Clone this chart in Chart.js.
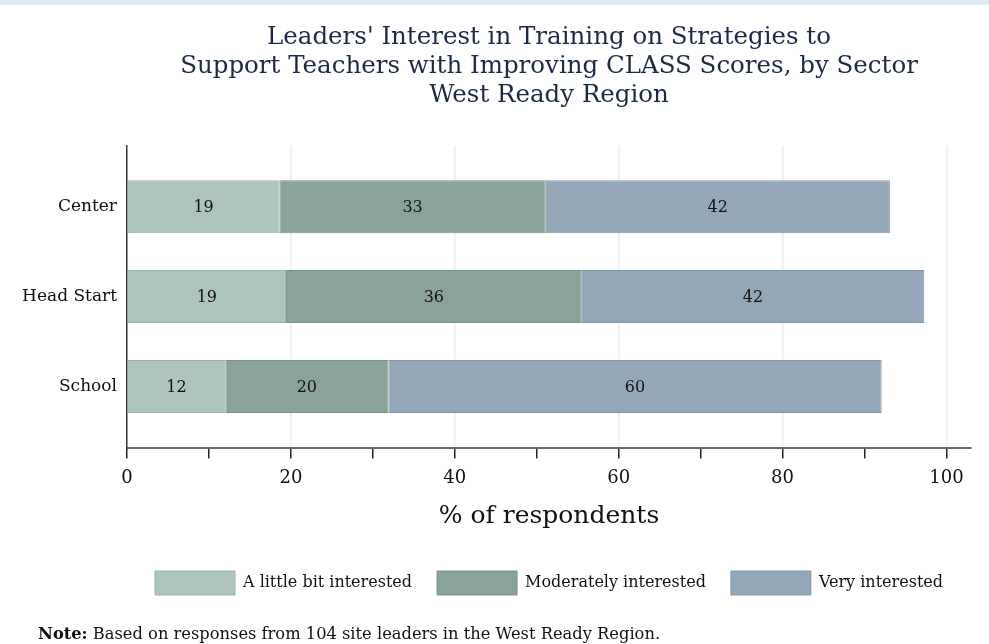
<!DOCTYPE html>
<html>
<head>
<meta charset="utf-8">
<script src="https://cdn.jsdelivr.net/npm/chart.js@4.4.1/dist/chart.umd.min.js"></script>
<style>
  html, body { margin: 0; padding: 0; background: #fff; }
  #wrap { position: relative; width: 989px; height: 644px; overflow: hidden; }
  #topband { position: absolute; left: 0; top: 0; width: 989px; height: 5px; background: #dfe9f2; }
  #note { position: absolute; left: 38px; top: 624px; font: 16.3px "DejaVu Serif", serif; color: #111; white-space: nowrap; }
</style>
</head>
<body>
<div id="wrap">
  <canvas id="chart" width="989" height="644"></canvas>
  <div id="topband"></div>
  <div id="note"><b>Note:</b> Based on responses from 104 site leaders in the West Ready Region.</div>
</div>
<script>
// sectors, top to bottom
const sectors = ['Center', 'Head Start', 'School'];
const seriesNames = ['A little bit interested', 'Moderately interested', 'Very interested'];

// % of respondents
const littleBit = [18.6, 19.4, 12.0];
const moderately = [32.5, 36.1, 19.9];
const veryInterested = [42.0, 41.8, 60.2];

const xTicks = [0, 20, 40, 60, 80, 100];

const fills = ['#adc4bf', '#8aa398', '#94a7b8'];
const strokes = ['#98b3ad', '#789486', '#8296ab'];
const serif = '"DejaVu Serif", serif';

function toPoints(values) {
    return values.map((v, i) => ({ x: v, y: i + 1 }));
}

// writes the rounded value in the middle of each segment
const segmentLabels = {
    id: 'segmentLabels',
    afterDatasetsDraw(chart) {
        const ctx = chart.ctx;
        ctx.save();
        ctx.font = '16px ' + serif;
        ctx.fillStyle = '#111';
        ctx.textAlign = 'center';
        ctx.textBaseline = 'middle';
        chart.data.datasets.forEach((ds, d) => {
            chart.getDatasetMeta(d).data.forEach((bar, i) => {
                const p = bar.getProps(['x', 'y', 'base'], true);
                ctx.fillText(String(Math.round(ds.data[i].x)), (p.x + p.base) / 2, p.y + 1);
            });
        });
        ctx.restore();
    }
};

const datasets = [littleBit, moderately, veryInterested].map((vals, k) => ({
    label: seriesNames[k],
    data: toPoints(vals),
    backgroundColor: fills[k],
    borderColor: strokes[k],
    borderWidth: 1,
    borderSkipped: false,
    barPercentage: 0.59,
    categoryPercentage: 1
}));

new Chart(document.getElementById('chart'), {
    type: 'bar',
    data: { datasets },
    plugins: [segmentLabels],
    options: {
        indexAxis: 'y',
        responsive: false,
        animation: false,
        devicePixelRatio: 1,
        layout: { padding: { left: 0, right: 18, top: 0, bottom: 39 } },
        scales: {
            x: {
                type: 'linear',
                stacked: true,
                min: 0,
                max: 103,
                ticks: {
                    stepSize: 10,
                    includeBounds: false,
                    autoSkip: false,
                    maxRotation: 0,
                    padding: 9,
                    color: '#111',
                    font: { family: serif, size: 18 },
                    callback: v => xTicks.includes(v) ? v : ''
                },
                grid: {
                    color: c => (c.tick && c.tick.value > 0 && xTicks.includes(c.tick.value)) ? '#e7eff2' : 'rgba(0,0,0,0)',
                    lineWidth: 1.5,
                    tickColor: '#222',
                    tickLength: 10,
                    tickWidth: 1.5
                },
                border: { color: '#666', width: 2 },
                title: {
                    display: true,
                    text: '% of respondents',
                    color: '#111',
                    font: { family: serif, size: 25 },
                    padding: { top: 3, bottom: 15 }
                }
            },
            y: {
                type: 'linear',
                stacked: true,
                reverse: true,
                offset: false,
                min: 0.32,
                max: 3.69,
                afterBuildTicks: scale => { scale.ticks = sectors.map((s, i) => ({ value: i + 1 })); },
                afterFit: scale => { scale.width = 127; },
                ticks: {
                    padding: 10,
                    color: '#111',
                    font: { family: serif, size: 17 },
                    callback: v => sectors[v - 1]
                },
                grid: { offset: false, drawOnChartArea: false, drawTicks: false, tickLength: 0 },
                border: { color: '#333', width: 1.5 }
            }
        },
        plugins: {
            title: {
                display: true,
                fullSize: false,
                text: ["Leaders' Interest in Training on Strategies to",
                       'Support Teachers with Improving CLASS Scores, by Sector',
                       'West Ready Region'],
                color: '#1c2a48',
                font: { family: serif, size: 24.5, weight: 'normal', lineHeight: 1.18 },
                padding: { top: 23.5, bottom: 35.5 }
            },
            legend: {
                position: 'bottom',
                fullSize: false,
                labels: {
                    boxWidth: 80,
                    boxHeight: 24,
                    padding: 25,
                    color: '#111',
                    font: { family: serif, size: 16 }
                }
            },
            tooltip: { enabled: false }
        }
    }
});
</script>
</body>
</html>
